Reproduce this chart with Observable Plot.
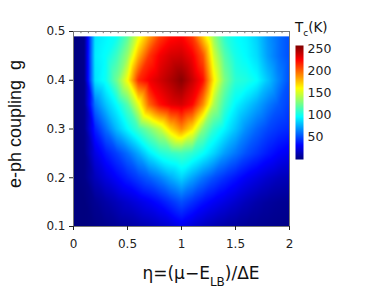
<!DOCTYPE html>
<html><head><meta charset="utf-8">
<script src="https://cdn.jsdelivr.net/npm/d3@7"></script>
<script src="https://cdn.jsdelivr.net/npm/@observablehq/plot@0.6"></script>
<style>
body{margin:0;background:#fff}
#chart{position:relative;width:375px;height:295px}
</style>
</head><body><div id="chart"></div>
<script>
// η grid (columns) and g grid (rows)
const etaValues = [0,0.1,0.2,0.3,0.4,0.5,0.6,0.7,0.8,0.9,1.0,1.1,1.2,1.3,1.4,1.5,1.6,1.7,1.8,1.9,2.0];
const gValues = [0.1, 0.15, 0.2, 0.25, 0.3, 0.35, 0.4, 0.45, 0.49];
// Tc (K) along η for each g
const tcAtG010 = [0,0,2,4,6,8,11,14,18,22,28,22,17,13,10,8,6,5,4,3,2];
const tcAtG015 = [0,0,5,10,15,20,25,30,36,44,52,44,36,30,25,20,15,11,8,6,5];
const tcAtG020 = [0,2,15,24,32,40,48,56,65,76,86,74,62,52,44,37,30,25,20,16,14];
const tcAtG025 = [0,2,25,38,48,60,75,92,104,110,114,108,98,86,72,62,52,45,38,32,28];
const tcAtG030 = [0,3,40,60,80,96,112,128,145,172,190,168,130,108,95,82,68,58,50,45,42];
const tcAtG035 = [0,3,62,82,97,118,155,200,222,232,236,225,190,140,112,95,85,75,64,55,48];
const tcAtG040 = [0,3,90,100,125,160,215,228,237,246,255,240,222,165,128,108,104,97,82,66,52];
const tcAtG045 = [0,3,92,98,112,135,180,212,228,236,238,228,205,150,118,102,96,88,72,60,52];
const tcAtG049 = [0,3,90,95,100,120,155,185,210,222,225,212,175,135,108,98,94,85,70,60,52];
const tcRows = [tcAtG010, tcAtG015, tcAtG020, tcAtG025, tcAtG030, tcAtG035, tcAtG040, tcAtG045, tcAtG049];

const xTickValues = [0, 0.5, 1, 1.5, 2];
const xTickLabels = ["0", "0.5", "1", "1.5", "2"];
const yTickValues = [0.1, 0.2, 0.3, 0.4, 0.5];
const yTickLabels = ["0.1", "0.2", "0.3", "0.4", "0.5"];
const cbTickValues = [50, 100, 150, 200, 250];
const cbTickLabels = ["50", "100", "150", "200", "250"];
const topMinorTicks = d3.range(0, 30).map(i => i * 2 / 29);

// jet colour map
const jetStops = [0, 32.25, 96.75, 161.25, 225.75, 258];
const jetColors = ["#00007f", "#0000ff", "#00ffff", "#ffff00", "#ff0000", "#7f0000"];
const colorScale = {type: "linear", domain: jetStops, range: jetColors, clamp: true};

const table = gValues.flatMap((g, j) => etaValues.map((eta, i) => ({eta, g, tc: tcRows[j][i]})));

const chart = Plot.plot({
  width: 375, height: 295,
  marginLeft: 73, marginRight: 86, marginTop: 31, marginBottom: 69,
  style: {fontFamily: "DejaVu Sans", fontSize: "12px", color: "#222", background: "transparent"},
  x: {domain: [0, 2]},
  y: {domain: [0.1, 0.5]},
  color: colorScale,
  marks: [
    Plot.raster(table, {x: "eta", y: "g", fill: "tc", interpolate: "barycentric",
      x1: 0, x2: 2, y1: 0.1, y2: 0.49}),
    Plot.frame({stroke: "#777"}),
    Plot.ruleX(topMinorTicks, {x: d => d, y1: 0.5, y2: 0.4955, stroke: "#777"}),
    Plot.axisX({ticks: xTickValues, tickFormat: (d, i) => xTickLabels[i], tickSize: 4, tickPadding: 9, label: null}),
    Plot.axisY({ticks: yTickValues, tickFormat: (d, i) => yTickLabels[i], tickSize: 4, tickPadding: 4, label: null})
  ]
});

const host = document.getElementById("chart");
host.appendChild(chart);

const svg = d3.select(chart);
// x label
const xl = svg.append("text")
  .attr("x", 201).attr("y", 279).attr("text-anchor", "middle")
  .attr("font-family", "DejaVu Sans").attr("font-size", 17).attr("fill", "#111");
xl.append("tspan").text("η=(μ−E");
xl.append("tspan").attr("dy", 7).attr("font-size", 12).text("LB");
xl.append("tspan").attr("dy", -7).text(")/ΔE");
// y label
svg.append("text")
  .attr("transform", "translate(21,124) rotate(-90)").attr("text-anchor", "middle")
  .attr("font-family", "Liberation Sans").attr("font-size", 18).attr("fill", "#111")
  .attr("xml:space", "preserve").style("white-space", "pre")
  .text("e-ph coupling  g");

// colour bar
const bar = Plot.plot({
  width: 88, height: 200,
  marginLeft: 8, marginRight: 72, marginTop: 45, marginBottom: 41,
  style: {fontFamily: "DejaVu Sans", fontSize: "12.5px", color: "#222", background: "transparent"},
  x: {domain: [0, 1], axis: null},
  y: {domain: [0, 258]},
  color: colorScale,
  marks: [
    Plot.raster({x1: 0, x2: 1, y1: 0, y2: 258, fill: (x, y) => y}),
    Plot.axisY({anchor: "right", ticks: cbTickValues, tickFormat: (d, i) => cbTickLabels[i], tickSize: 0, tickPadding: 4, label: null})
  ]
});
bar.style.position = "absolute";
bar.style.left = "287px";
bar.style.top = "0px";
host.appendChild(bar);

// colour bar title
const tt = d3.select(bar).append("text")
  .attr("x", 8).attr("y", 32).attr("text-anchor", "start")
  .attr("font-family", "DejaVu Sans").attr("font-size", 13.5).attr("fill", "#111");
tt.append("tspan").text("T");
tt.append("tspan").attr("dy", 4).attr("font-size", 9).text("c");
tt.append("tspan").attr("dy", -4).text("(K)");
</script></body></html>
